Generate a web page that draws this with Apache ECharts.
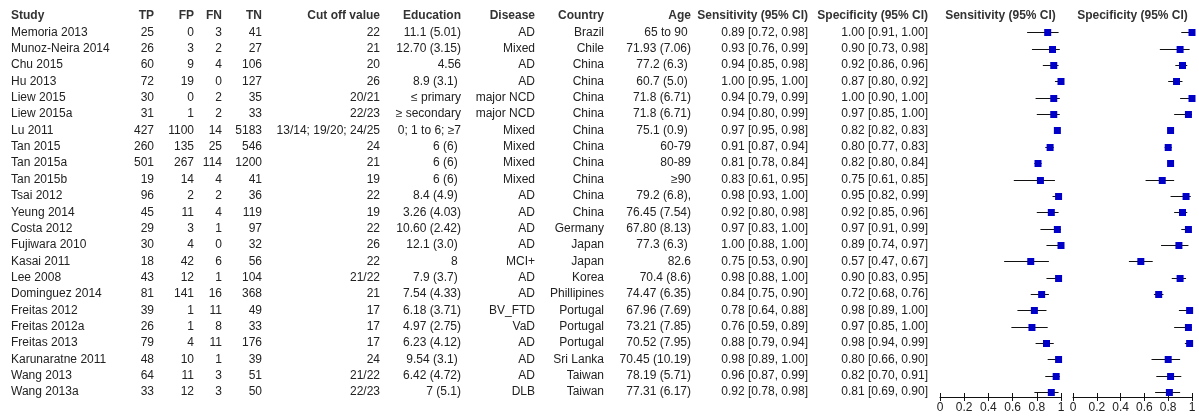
<!DOCTYPE html>
<html>
<head>
<meta charset="utf-8">
<script src="https://cdn.jsdelivr.net/npm/echarts@6/dist/echarts.min.js"></script>
<style>
  html, body { margin: 0; padding: 0; background: #fff; }
  #chart { width: 1199px; height: 418px; }
</style>
</head>
<body>
<div id="chart"></div>
<script>
// ---- Study table ----
const studies = ['Memoria 2013', 'Munoz-Neira 2014', 'Chu 2015', 'Hu 2013', 'Liew 2015', 'Liew 2015a', 'Lu 2011',
  'Tan 2015', 'Tan 2015a', 'Tan 2015b', 'Tsai 2012', 'Yeung 2014', 'Costa 2012', 'Fujiwara 2010', 'Kasai 2011',
  'Lee 2008', 'Dominguez 2014', 'Freitas 2012', 'Freitas 2012a', 'Freitas 2013', 'Karunaratne 2011', 'Wang 2013', 'Wang 2013a'];
const tp = [25, 26, 60, 72, 30, 31, 427, 260, 501, 19, 96, 45, 29, 30, 18, 43, 81, 39, 26, 79, 48, 64, 33];
const fp = [0, 3, 9, 19, 0, 1, 1100, 135, 267, 14, 2, 11, 3, 4, 42, 12, 141, 1, 1, 4, 10, 11, 12];
const fn = [3, 2, 4, 0, 2, 2, 14, 25, 114, 4, 2, 4, 1, 0, 6, 1, 16, 11, 8, 11, 1, 3, 3];
const tn = [41, 27, 106, 127, 35, 33, 5183, 546, 1200, 41, 36, 119, 97, 32, 56, 104, 368, 49, 33, 176, 39, 51, 50];
const cutoffs = ['22', '21', '20', '26', '20/21', '22/23', '13/14; 19/20; 24/25', '24', '21', '19', '22', '19', '22', '26',
  '22', '21/22', '21', '17', '17', '17', '24', '21/22', '22/23'];
const education = ['11.1 (5.01)', '12.70 (3.15)', '4.56', '8.9 (3.1) ', '\u2264 primary', '\u2265 secondary', '0; 1 to 6; \u22657',
  '6 (6) ', '6 (6) ', '6 (6) ', '8.4 (4.9) ', '3.26 (4.03)', '10.60 (2.42)', '12.1 (3.0) ', '8 ', '7.9 (3.7) ', '7.54 (4.33)',
  '6.18 (3.71)', '4.97 (2.75)', '6.23 (4.12)', '9.54 (3.1) ', '6.42 (4.72)', '7 (5.1)'];
const disease = ['AD', 'Mixed', 'AD', 'AD', 'major NCD', 'major NCD', 'Mixed', 'Mixed', 'Mixed', 'Mixed', 'AD', 'AD', 'AD',
  'AD', 'MCI+', 'AD', 'AD', 'BV_FTD', 'VaD', 'AD', 'AD', 'AD', 'DLB'];
const country = ['Brazil', 'Chile', 'China', 'China', 'China', 'China', 'China', 'China', 'China', 'China', 'China', 'China',
  'Germany', 'Japan', 'Japan', 'Korea', 'Phillipines', 'Portugal', 'Portugal', 'Portugal', 'Sri Lanka', 'Taiwan', 'Taiwan'];
const age = ['65 to 90 ', '71.93 (7.06)', '77.2 (6.3) ', '60.7 (5.0) ', '71.8 (6.71)', '71.8 (6.71)', '75.1 (0.9) ', '60-79',
  '80-89', '\u226590', '79.2 (6.8),', '76.45 (7.54)', '67.80 (8.13)', '77.3 (6.3) ', '82.6', '70.4 (8.6)', '74.47 (6.35)',
  '67.96 (7.69)', '73.21 (7.85)', '70.52 (7.95)', '70.45 (10.19)', '78.19 (5.71)', '77.31 (6.17)'];

// ---- Sensitivity / specificity with 95% CI ----
const sensEst = [0.89, 0.93, 0.94, 1.00, 0.94, 0.94, 0.97, 0.91, 0.81, 0.83, 0.98, 0.92, 0.97, 1.00, 0.75, 0.98, 0.84, 0.78, 0.76, 0.88, 0.98, 0.96, 0.92];
const sensLo  = [0.72, 0.76, 0.85, 0.95, 0.79, 0.80, 0.95, 0.87, 0.78, 0.61, 0.93, 0.80, 0.83, 0.88, 0.53, 0.88, 0.75, 0.64, 0.59, 0.79, 0.89, 0.87, 0.78];
const sensHi  = [0.98, 0.99, 0.98, 1.00, 0.99, 0.99, 0.98, 0.94, 0.84, 0.95, 1.00, 0.98, 1.00, 1.00, 0.90, 1.00, 0.90, 0.88, 0.89, 0.94, 1.00, 0.99, 0.98];
const specEst = [1.00, 0.90, 0.92, 0.87, 1.00, 0.97, 0.82, 0.80, 0.82, 0.75, 0.95, 0.92, 0.97, 0.89, 0.57, 0.90, 0.72, 0.98, 0.97, 0.98, 0.80, 0.82, 0.81];
const specLo  = [0.91, 0.73, 0.86, 0.80, 0.90, 0.85, 0.82, 0.77, 0.80, 0.61, 0.82, 0.85, 0.91, 0.74, 0.47, 0.83, 0.68, 0.89, 0.85, 0.94, 0.66, 0.70, 0.69];
const specHi  = [1.00, 0.98, 0.96, 0.92, 1.00, 1.00, 0.83, 0.83, 0.84, 0.85, 0.99, 0.96, 0.99, 0.97, 0.67, 0.95, 0.76, 1.00, 1.00, 0.99, 0.90, 0.91, 0.90];

const headers = ['Study', 'TP', 'FP', 'FN', 'TN', 'Cut off value', 'Education', 'Disease', 'Country', 'Age',
  'Sensitivity (95% CI)', 'Specificity (95% CI)'];
const plotTitles = ['Sensitivity (95% CI)', 'Specificity (95% CI)'];
const axisTicks = [0, 0.2, 0.4, 0.6, 0.8, 1];

// ---- layout ----
const FONT = '12px "Liberation Sans", Arial, sans-serif';
const BOLD = 'bold 12px "Liberation Sans", Arial, sans-serif';
const TEXT = '#222222';
const HEAD = '#333333';
const AXIS = '#111111';
const ROW_H = 16.35;
const TOP = 16;
const GRID_H = 381;
const Y_MIN = -1, Y_MAX = Y_MIN + GRID_H / ROW_H;

const fmtCI = (e, l, h) => `${e.toFixed(2)} [${l.toFixed(2)}, ${h.toFixed(2)}]`;
const sensText = sensEst.map((e, i) => fmtCI(e, sensLo[i], sensHi[i]));
const specText = specEst.map((e, i) => fmtCI(e, specLo[i], specHi[i]));

const columns = [
  { values: studies, x: 11, align: 'left' },
  { values: tp.map(String), x: 154, align: 'right' },
  { values: fp.map(String), x: 194, align: 'right' },
  { values: fn.map(String), x: 222, align: 'right' },
  { values: tn.map(String), x: 262, align: 'right' },
  { values: cutoffs, x: 380, align: 'right' },
  { values: education, x: 461, align: 'right' },
  { values: disease, x: 535, align: 'right' },
  { values: country, x: 604, align: 'right' },
  { values: age, x: 691, align: 'right' },
  { values: sensText, x: 808, align: 'right' },
  { values: specText, x: 928, align: 'right' }
];

function textSeries(texts, xs, rows, aligns, font, color, axisIdx) {
  return {
    type: 'custom',
    xAxisIndex: axisIdx,
    yAxisIndex: axisIdx,
    clip: false,
    silent: true,
    data: texts.map((t, i) => [xs[i], rows[i]]),
    renderItem(params, api) {
      const p = api.coord([api.value(0), api.value(1)]);
      return {
        type: 'text',
        x: p[0], y: p[1],
        style: {
          text: texts[params.dataIndex],
          align: aligns[params.dataIndex],
          verticalAlign: 'middle',
          font: font,
          fill: color
        }
      };
    }
  };
}

const series = [];
// table body
columns.forEach(col => {
  series.push(textSeries(col.values, col.values.map(() => col.x), col.values.map((_, i) => i),
    col.values.map(() => col.align), FONT, TEXT, 0));
});
// table header
series.push(textSeries(headers, columns.map(c => c.x), headers.map(() => -1), columns.map(c => c.align), BOLD, HEAD, 0));

// forest plots: CI whisker + point-estimate square per study
const forest = [
  { est: sensEst, lo: sensLo, hi: sensHi },
  { est: specEst, lo: specLo, hi: specHi }
];
forest.forEach((f, k) => {
  series.push({
    type: 'custom',
    xAxisIndex: k + 1,
    yAxisIndex: k + 1,
    clip: false,
    silent: true,
    encode: { x: [0, 1, 2], y: 3 },
    data: f.est.map((e, i) => [e, f.lo[i], f.hi[i], i]),
    renderItem(params, api) {
      const row = api.value(3);
      const a = api.coord([api.value(1), row]);
      const b = api.coord([api.value(2), row]);
      const c = api.coord([api.value(0), row]);
      const y = Math.round(c[1]) + 0.5;   // keep the 1px whisker crisp
      const s = 7;
      return {
        type: 'group',
        children: [
          { type: 'line', shape: { x1: a[0], y1: y, x2: b[0], y2: y },
            style: { stroke: '#111111', lineWidth: 1 } },
          { type: 'rect', shape: { x: c[0] - s / 2, y: y - s / 2, width: s, height: s },
            style: { fill: '#0000C8' } }
        ]
      };
    }
  });
  series.push(textSeries([plotTitles[k]], [0.5], [-1], ['center'], BOLD, HEAD, k + 1));
});

const gridBase = { top: TOP, height: GRID_H, containLabel: false };
const yBase = { type: 'value', inverse: true, min: Y_MIN, max: Y_MAX, show: false };
const plotGrids = [{ left: 940, width: 121 }, { left: 1073, width: 119 }];

function forestAxis(gridIndex) {
  return {
    type: 'value', gridIndex, min: 0, max: 1, interval: 0.2, position: 'bottom',
    splitLine: { show: false },
    axisLine: { show: true, onZero: false, lineStyle: { color: AXIS, width: 1 } },
    axisTick: { show: true, length: 4, lineStyle: { color: AXIS } },
    axisLabel: {
      show: true, margin: 5, color: TEXT, fontSize: 12, fontFamily: '"Liberation Sans", Arial, sans-serif',
      showMinLabel: true, showMaxLabel: true, hideOverlap: false,
      formatter: v => String(axisTicks.reduce((p, t) => Math.abs(t - v) < Math.abs(p - v) ? t : p))
    }
  };
}
// thin helper grid sharing the plot's bottom edge: draws the upper half of each tick mark
function tickAxis(gridIndex) {
  return {
    type: 'value', gridIndex, min: 0, max: 1, interval: 0.2, position: 'bottom',
    splitLine: { show: false },
    axisLine: { show: false, onZero: false },
    axisTick: { show: true, inside: true, length: 4, lineStyle: { color: AXIS } },
    axisLabel: { show: false }
  };
}

const chart = echarts.init(document.getElementById('chart'), null, { renderer: 'canvas' });
chart.setOption({
  backgroundColor: '#ffffff',
  animation: false,
  grid: [
    Object.assign({ left: 0, width: 1199 }, gridBase),
    Object.assign({}, plotGrids[0], gridBase),
    Object.assign({}, plotGrids[1], gridBase),
    Object.assign({}, plotGrids[0], { top: TOP + GRID_H - 10, height: 10 }),
    Object.assign({}, plotGrids[1], { top: TOP + GRID_H - 10, height: 10 })
  ],
  xAxis: [
    { type: 'value', gridIndex: 0, min: 0, max: 1199, show: false },
    forestAxis(1),
    forestAxis(2),
    tickAxis(3),
    tickAxis(4)
  ],
  yAxis: [
    Object.assign({ gridIndex: 0 }, yBase),
    Object.assign({ gridIndex: 1 }, yBase),
    Object.assign({ gridIndex: 2 }, yBase),
    { type: 'value', gridIndex: 3, min: 0, max: 1, show: false },
    { type: 'value', gridIndex: 4, min: 0, max: 1, show: false }
  ],
  series: series
});
</script>
</body>
</html>
